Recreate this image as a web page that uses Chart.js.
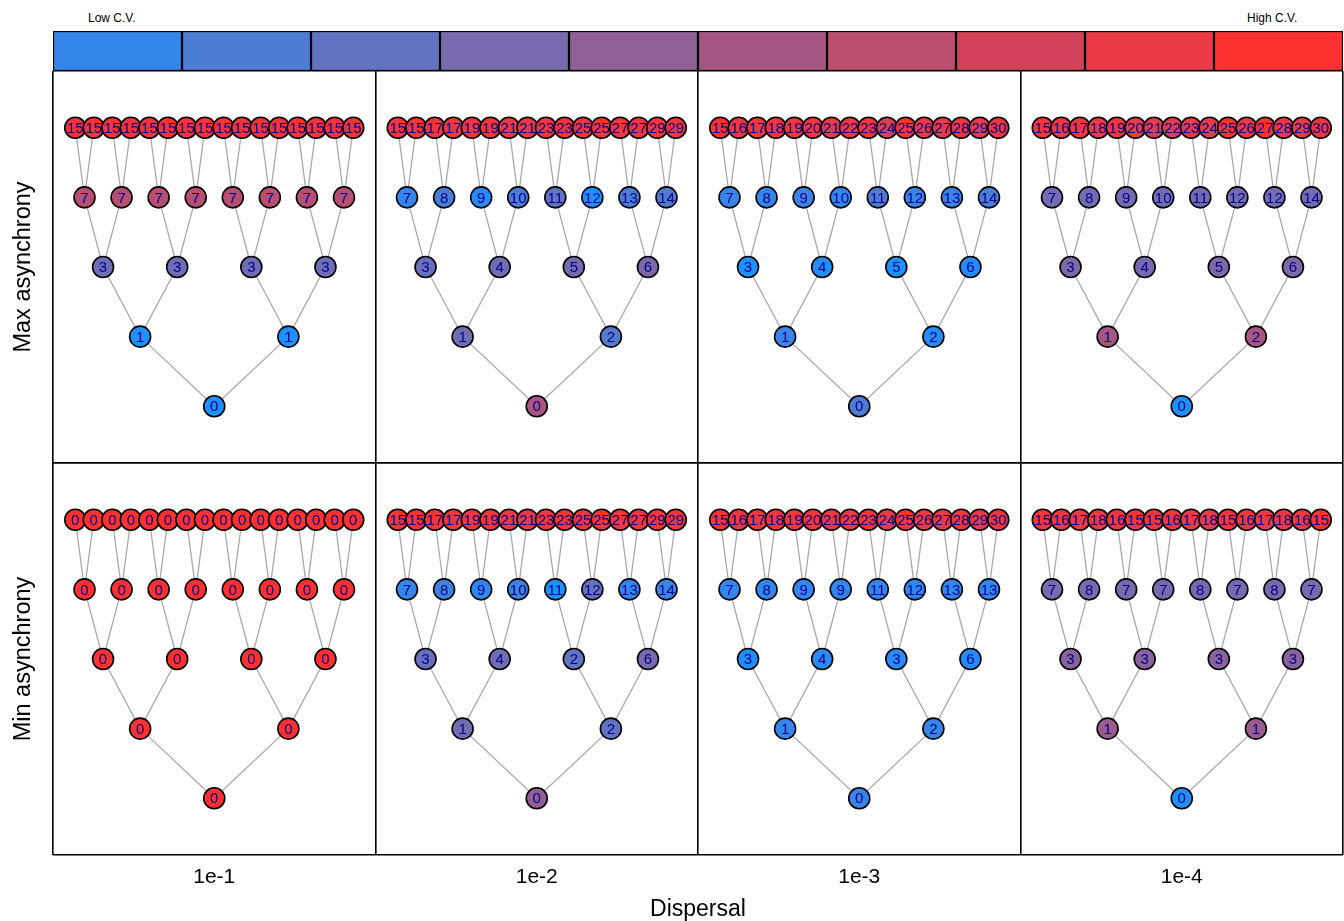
<!DOCTYPE html>
<html>
<head>
<meta charset="utf-8">
<title>Dispersal trees</title>
<script src="https://cdn.jsdelivr.net/npm/chart.js@4.4.1/dist/chart.umd.min.js"></script>
<style>
  body { margin: 0; background: #fff; }
  #page { position: relative; width: 1344px; height: 921px; overflow: hidden;
          font-family: "Liberation Sans", Arial, sans-serif; }
  canvas { position: absolute; left: 0; }
  .cvlab { position: absolute; top: 11px; font-size: 12px; color: #000; white-space: nowrap; }
</style>
</head>
<body>
<div id="page">
  <div class="cvlab" id="low-cv" style="left:88px"></div>
  <div class="cvlab" id="high-cv" style="left:1247px"></div>
  <canvas id="cvbar" width="1344" height="42" style="top:30px"></canvas>
  <canvas id="max-row" width="1344" height="396" style="top:69px"></canvas>
  <canvas id="min-row" width="1344" height="460" style="top:461px"></canvas>
</div>
<script>
(function() {
  window.addEventListener("load", main);

  const dispersal = ["1e-1", "1e-2", "1e-3", "1e-4"];
  const rowNames = ["Max asynchrony", "Min asynchrony"];
  const cvEnds = ["Low C.V.", "High C.V."];
  const cvBins = [1, 1, 1, 1, 1, 1, 1, 1, 1, 1];

  // node labels in heap order: root, level 1, level 2, level 3, leaves
  const maxLabels1 = [0, 1, 1, 3, 3, 3, 3, 7, 7, 7, 7, 7, 7, 7, 7,
    15, 15, 15, 15, 15, 15, 15, 15, 15, 15, 15, 15, 15, 15, 15, 15];
  const maxLabels2 = [0, 1, 2, 3, 4, 5, 6, 7, 8, 9, 10, 11, 12, 13, 14,
    15, 15, 17, 17, 19, 19, 21, 21, 23, 23, 25, 25, 27, 27, 29, 29];
  const maxLabels3 = [0, 1, 2, 3, 4, 5, 6, 7, 8, 9, 10, 11, 12, 13, 14,
    15, 16, 17, 18, 19, 20, 21, 22, 23, 24, 25, 26, 27, 28, 29, 30];
  const maxLabels4 = [0, 1, 2, 3, 4, 5, 6, 7, 8, 9, 10, 11, 12, 12, 14,
    15, 16, 17, 18, 19, 20, 21, 22, 23, 24, 25, 26, 27, 28, 29, 30];
  const minLabels1 = [0, 0, 0, 0, 0, 0, 0, 0, 0, 0, 0, 0, 0, 0, 0,
    0, 0, 0, 0, 0, 0, 0, 0, 0, 0, 0, 0, 0, 0, 0, 0];
  const minLabels2 = [0, 1, 2, 3, 4, 2, 6, 7, 8, 9, 10, 11, 12, 13, 14,
    15, 15, 17, 17, 19, 19, 21, 21, 23, 23, 25, 25, 27, 27, 29, 29];
  const minLabels3 = [0, 1, 2, 3, 4, 3, 6, 7, 8, 9, 9, 11, 12, 13, 13,
    15, 16, 17, 18, 19, 20, 21, 22, 23, 24, 25, 26, 27, 28, 29, 30];
  const minLabels4 = [0, 1, 1, 3, 3, 3, 3, 7, 8, 7, 7, 8, 7, 8, 7,
    15, 16, 17, 18, 16, 15, 15, 16, 17, 18, 15, 16, 17, 18, 16, 15];

  // relative C.V. of each node (0 = low, 1 = high), same order
  const maxCv1 = [0.0, 0.0, 0.0, 0.35, 0.35, 0.35, 0.35,
    0.68, 0.68, 0.68, 0.68, 0.68, 0.68, 0.68, 0.68,
    0.96, 0.96, 0.96, 0.96, 0.96, 0.96, 0.96, 0.96, 0.96, 0.96, 0.96, 0.96, 0.96, 0.96, 0.96, 0.96];
  const maxCv2 = [0.62, 0.36, 0.24, 0.33, 0.36, 0.38, 0.42,
    0.1, 0.2, 0.05, 0.2, 0.3, 0.0, 0.2, 0.22,
    0.95, 0.95, 0.93, 0.93, 0.95, 0.95, 0.92, 0.92, 0.95, 0.96, 0.96, 0.95, 0.93, 0.93, 0.95, 0.96];
  const maxCv3 = [0.22, 0.12, 0.05, 0.0, 0.02, 0.0, 0.02,
    0.1, 0.1, 0.12, 0.08, 0.22, 0.12, 0.12, 0.2,
    0.98, 0.93, 0.93, 0.95, 0.93, 0.95, 0.9, 0.92, 0.95, 0.86, 0.95, 0.9, 0.9, 0.93, 0.9, 0.95];
  const maxCv4 = [0.0, 0.6, 0.6, 0.42, 0.4, 0.42, 0.42,
    0.38, 0.38, 0.38, 0.38, 0.38, 0.38, 0.38, 0.38,
    0.95, 0.92, 0.93, 0.9, 0.93, 0.9, 0.88, 0.88, 0.9, 0.88, 1.0, 0.92, 1.0, 0.92, 0.9, 0.93];
  const minCv1 = [1.0, 1.0, 1.0, 1.0, 1.0, 1.0, 1.0,
    1.0, 1.0, 1.0, 1.0, 1.0, 1.0, 1.0, 1.0,
    1.0, 1.0, 1.0, 1.0, 1.0, 1.0, 1.0, 1.0, 1.0, 1.0, 1.0, 1.0, 1.0, 1.0, 1.0, 1.0];
  const minCv2 = [0.52, 0.38, 0.3, 0.33, 0.36, 0.3, 0.4,
    0.1, 0.15, 0.08, 0.15, 0.0, 0.32, 0.08, 0.12,
    0.96, 0.96, 0.93, 0.93, 0.95, 0.95, 0.92, 0.92, 0.95, 0.95, 0.96, 0.95, 0.93, 0.93, 0.95, 0.96];
  const minCv3 = [0.12, 0.1, 0.12, 0.02, 0.05, 0.05, 0.02,
    0.08, 0.08, 0.08, 0.08, 0.08, 0.08, 0.08, 0.08,
    0.96, 0.93, 0.93, 0.95, 0.93, 0.95, 0.92, 0.92, 0.95, 0.9, 0.95, 0.92, 0.92, 0.93, 0.92, 0.95];
  const minCv4 = [0.0, 0.55, 0.55, 0.47, 0.47, 0.47, 0.47,
    0.4, 0.4, 0.4, 0.4, 0.4, 0.4, 0.4, 0.4,
    0.95, 0.93, 0.9, 0.92, 0.93, 0.95, 0.95, 0.93, 0.9, 0.9, 0.95, 0.93, 0.9, 0.92, 0.93, 0.97];

  const FONT = '"Liberation Sans", Arial, sans-serif';
  const LOW_RGB = [30, 144, 255];   // dodgerblue
  const HIGH_RGB = [255, 48, 48];   // firebrick1
  const LEAVES = 16;
  const PANEL_W = 17.4;
  const LEAF_OFFSET = 1.2;
  const LEVEL_PAD = 0.815;

  function main() {
    document.getElementById("low-cv").textContent = cvEnds[0];
    document.getElementById("high-cv").textContent = cvEnds[1];
    drawColorBar();
    new Chart(document.getElementById("max-row"), {
      type: "scatter",
      data: { datasets: rowDatasets([maxLabels1, maxLabels2, maxLabels3, maxLabels4],
                                    [maxCv1, maxCv2, maxCv3, maxCv4]) },
      options: rowOptions(0, false),
      plugins: [nodeLabels]
    });
    new Chart(document.getElementById("min-row"), {
      type: "scatter",
      data: { datasets: rowDatasets([minLabels1, minLabels2, minLabels3, minLabels4],
                                    [minCv1, minCv2, minCv3, minCv4]) },
      options: rowOptions(1, true),
      plugins: [nodeLabels]
    });
  }

  function cvColor(t) {
    let c = [];
    for (let i = 0; i < 3; i++) {
      c.push(Math.round(LOW_RGB[i] + (HIGH_RGB[i] - LOW_RGB[i]) * t));
    }
    return "rgb(" + c.join(",") + ")";
  }

  function treeLevel(n) {
    return Math.floor(Math.log2(n + 1));
  }

  // parent sits midway over its leaves
  function nodeX(panel, n) {
    let level = treeLevel(n);
    let pos = n - (Math.pow(2, level) - 1);
    let span = LEAVES / Math.pow(2, level);
    return panel * PANEL_W + LEAF_OFFSET + (pos + 0.5) * span - 0.5;
  }

  function rowDatasets(labelSets, cvSets) {
    let sets = [];
    for (let c = 0; c < labelSets.length; c++) {
      let nodes = [];
      let colors = [];
      for (let n = 0; n < labelSets[c].length; n++) {
        nodes.push({ x: nodeX(c, n), y: treeLevel(n) });
        colors.push(cvColor(cvSets[c][n]));
      }
      let edges = [];
      for (let n = 1; n < nodes.length; n++) {
        let parent = Math.floor((n - 1) / 2);
        edges.push(nodes[n], nodes[parent], { x: null, y: null });
      }
      sets.push({
        type: "scatter",
        data: nodes,
        labels: labelSets[c],
        pointBackgroundColor: colors,
        pointBorderColor: "#000",
        pointBorderWidth: 1.6,
        pointRadius: 10.5,
        pointHoverRadius: 10.5,
        order: 1
      });
      sets.push({
        type: "line",
        data: edges,
        borderColor: "#a9a9a9",
        borderWidth: 1.3,
        pointRadius: 0,
        spanGaps: false,
        fill: false,
        order: 2
      });
    }
    return sets;
  }

  const nodeLabels = {
    id: "nodeLabels",
    afterDatasetsDraw(chart) {
      let ctx = chart.ctx;
      ctx.save();
      ctx.font = "15px " + FONT;
      ctx.fillStyle = "#00008b";
      ctx.textAlign = "center";
      ctx.textBaseline = "middle";
      chart.data.datasets.forEach(function(ds, di) {
        if (!ds.labels) {
          return;
        }
        let meta = chart.getDatasetMeta(di);
        meta.data.forEach(function(pt, i) {
          ctx.fillText(String(ds.labels[i]), pt.x, pt.y + 1);
        });
      });
      ctx.restore();
    }
  };

  function xTicks() {
    let ticks = [];
    for (let c = 0; c <= dispersal.length; c++) {
      ticks.push({ value: c * PANEL_W });
      if (c < dispersal.length) {
        ticks.push({ value: (c + 0.5) * PANEL_W });
      }
    }
    return ticks;
  }

  function isBoundary(v) {
    let r = v / PANEL_W;
    return Math.abs(r - Math.round(r)) < 1e-6;
  }

  function panelLabel(v) {
    for (let c = 0; c < dispersal.length; c++) {
      if (Math.abs(v - (c + 0.5) * PANEL_W) < 1e-6) {
        return dispersal[c];
      }
    }
    return "";
  }

  function rowOptions(r, isBottom) {
    let yMin = -LEVEL_PAD;
    let yMax = treeLevel(LEAVES * 2 - 2) + LEVEL_PAD;
    return {
      responsive: false,
      animation: false,
      events: [],
      layout: {
        autoPadding: false,
        padding: { top: 2, right: 1, bottom: isBottom ? 0 : 2, left: 0 }
      },
      plugins: { legend: { display: false }, tooltip: { enabled: false } },
      scales: {
        x: {
          type: "linear",
          min: 0,
          max: dispersal.length * PANEL_W,
          afterBuildTicks: function(s) { s.ticks = xTicks(); },
          afterFit: function(s) {
            s.height = isBottom ? 66 : 0;
            s.paddingLeft = 0;
            s.paddingRight = 0;
          },
          ticks: {
            display: isBottom, autoSkip: false, maxRotation: 0, minRotation: 0,
            padding: 10, color: "#000", font: { size: 21, family: FONT },
            callback: function(v) { return panelLabel(v); }
          },
          grid: {
            drawTicks: false, lineWidth: 1.6,
            color: function(ctx) {
              return ctx.tick && isBoundary(ctx.tick.value) ? "#000" : "rgba(0,0,0,0)";
            }
          },
          border: { display: false },
          title: {
            display: isBottom, text: "Dispersal", color: "#000",
            font: { size: 23, family: FONT, lineHeight: 1 },
            padding: { top: 0, bottom: 0 }
          }
        },
        y: {
          type: "linear",
          min: yMin,
          max: yMax,
          afterBuildTicks: function(s) { s.ticks = [{ value: yMin }, { value: yMax }]; },
          afterFit: function(s) {
            s.width = 53;
            s.paddingTop = 0;
            s.paddingBottom = 0;
          },
          ticks: { display: false },
          grid: { drawTicks: false, lineWidth: 1.6, color: "#000" },
          border: { display: false },
          title: {
            display: true, text: rowNames[r], color: "#000",
            font: { size: 23.5, family: FONT, lineHeight: 1 },
            padding: { top: 12, bottom: 0 }
          }
        }
      }
    };
  }

  function drawColorBar() {
    let sets = [];
    for (let s = 0; s < cvBins.length; s++) {
      sets.push({
        data: [cvBins[s]],
        backgroundColor: cvColor((s + 1) / cvBins.length),
        borderColor: "#000",
        borderWidth: 1.5,
        borderSkipped: false,
        barPercentage: 1,
        categoryPercentage: 1
      });
    }
    new Chart(document.getElementById("cvbar"), {
      type: "bar",
      data: { labels: ["C.V."], datasets: sets },
      options: {
        indexAxis: "y",
        responsive: false,
        animation: false,
        events: [],
        layout: { padding: { left: 53, right: 1, top: 1, bottom: 1 } },
        plugins: { legend: { display: false }, tooltip: { enabled: false } },
        scales: {
          x: { stacked: true, display: false, min: 0, max: cvBins.length },
          y: { stacked: true, display: false }
        }
      }
    });
  }
})();
</script>
</body>
</html>
